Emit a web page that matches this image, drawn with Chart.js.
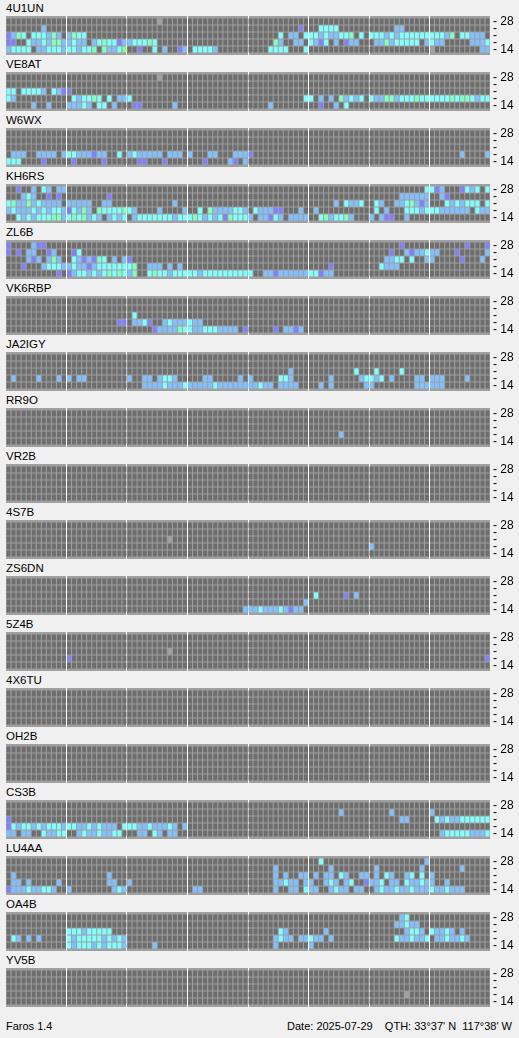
<!DOCTYPE html>
<html>
<head>
<meta charset="utf-8">
<script src="https://cdn.jsdelivr.net/npm/chart.js@4.4.1/dist/chart.umd.min.js"></script>
<style>
  body { margin: 0; background: #f0f0f0; width: 519px; height: 1038px; position: relative; overflow: hidden;
         font-family: "Liberation Sans", Arial, sans-serif; font-size: 11.5px; color: #000; }
  .panel { position: absolute; left: 0; width: 519px; height: 56px; }
  .name { position: absolute; left: 6px; top: 1px; line-height: 14px; }
  .panel canvas { position: absolute; left: 0; top: 14px; }
  .foot { position: absolute; top: 1019px; line-height: 14px; white-space: pre; font-size: 11px; }
</style>
</head>
<body>
<div id="panels"></div>
<div class="foot" style="left:6px">Faros 1.4</div>
<div class="foot" style="right:7px">Date: 2025-07-29    QTH: 33°37' N  117°38' W</div>
<script>
// beacons, top to bottom
const stations = ['4U1UN', 'VE8AT', 'W6WX', 'KH6RS', 'ZL6B', 'VK6RBP', 'JA2IGY', 'RR9O', 'VR2B',
                  '4S7B', 'ZS6DN', '5Z4B', '4X6TU', 'OH2B', 'CS3B', 'LU4AA', 'OA4B', 'YV5B'];

// 96 quarter-hour slots, rows are 28 / 24 / 21 / 18 / 14 MHz
const slots = Array.from({ length: 96 }, (_, i) => i);
const tickLabels = ['- 14', '-', '-', '-', '- 28'];

// cell codes: . nothing, x no data, c / b / p / g / G signal levels
// each row: list of [first slot, codes]
const d4U1UN = [
  [[30, 'x']],
  [[7, 'b'], [58, 'p'], [62, 'cccc'], [77, 'bb']],
  [[0, 'pbgc.cccbgb.bgcc'], [54, 'c.bb.cccbcbbccg.c.cccbcbcccccccccbg.ccbbb']],
  [[0, 'pp..cbbcbggbbcbb.bcgccpbbcccgc'], [53, 'gb..bb.cbpc.b.pbb...bbgbccccc.bcbb.....bbbc']],
  [[0, 'bcccc.bbcccbccbccg.gbbcG..p..c.b..pb.ccccb'], [52, 'cccc...c'], [84, 'x'], [94, 'bb']]
];
const dVE8AT = [
  [[30, 'x']],
  [],
  [[0, 'cc.ccccb.cbpp']],
  [[0, 'cb'], [13, 'cbccgc.c.bbc'], [59, 'cc.b.b.gbcbc.cbbggbcccgccccccgcggcbcc']],
  [[5, 'b..b...bbbcb.cc.b'], [25, 'pp'], [33, 'b'], [52, 'b'], [62, 'p'], [65, 'b'], [67, 'c']]
];
const dW6WX = [
  [],
  [],
  [],
  [[1, 'bbb..bbbb.bccbbbpbb..c.bcbbbbb.bbb.b...bb...bbbp'], [90, 'b'], [95, 'b']],
  [[0, 'ccc'], [7, 'p'], [13, 'p'], [19, 'p'], [26, 'pp'], [31, 'p'], [39, 'p'], [44, 'bp.b']]
];
const dKH6RS = [
  [[2, 'p..b.cb.bb'], [83, 'ccpb...pcbc.c']],
  [[3, 'bcb..p.p'], [20, 'p'], [78, 'bbbbbb..bp']],
  [[0, 'cgbbgbcbbbb.bbbbb..bb'], [33, 'b'], [65, 'b.cbbc..cb..bbcgbpb...cbcbccc.c']],
  [[0, 'bcbbbcbcbccbpcbgb.gccccgcb'], [30, 'b'], [35, 'b'], [38, 'c.gbbbbccb.cbbbpp...b..b'], [73, 'c.b...cccbcccbbbbbb.cbbc']],
  [[2, 'cbcbcccggbcgcgbcb.bcbc.bcccccccbcccgcbcbcpgcccb.bbpcb.bbbb..cgbccgb...b.bpp..b']]
];
const dZL6B = [
  [[0, 'p....bpp'], [78, 'p'], [91, 'p'], [95, 'p']],
  [[0, 'p.p.bb..pb...pc'], [76, 'p..bpbbcbb...p.....b']],
  [[4, 'bpb.bgb..cbpbpgc.b.bp'], [75, 'bbcc.c..bb.....p...b']],
  [[3, 'p...bcccbbcbbpbcccccccg..bbb.b.b'], [64, 'p'], [74, 'cbbb']],
  [[10, 'p.pbccbcbcgcgcbg..cgccbcccccbcccccccccc..bbpbbbbbbccpbb']]
];
const dVK6RBP = [
  [],
  [],
  [[25, 'c']],
  [[22, 'pp.bbcp..bcbbbcbb']],
  [[29, 'pbbbbgccbbcccbbbb.p'], [53, 'p.bbpb']]
];
const dJA2IGY = [
  [],
  [],
  [[56, 'b'], [69, 'c'], [73, 'c'], [78, 'c']],
  [[1, 'b'], [6, 'b'], [10, 'b.b.bb'], [24, 'b'], [27, 'bb.bccb'], [39, 'bb'], [46, 'b.b'], [54, 'ccb'], [64, 'b'], [70, 'bccbc.b'], [81, 'bb.bbb'], [91, 'b']],
  [[27, 'bbbbcbbbcbbbbbcbbbbbbbbcbb'], [54, 'bbbb'], [62, 'b.b'], [71, 'bb'], [81, 'bbbbbb']]
];
const dRR9O = [[], [], [], [[66, 'b']], []];
const dVR2B = [[], [], [], [], []];
const d4S7B = [[], [], [[32, 'x']], [[72, 'b']], []];
const dZS6DN = [
  [],
  [],
  [[61, 'c'], [67, 'p'], [69, 'b']],
  [[59, 'b']],
  [[47, 'bbbcbbbcbpbb']]
];
const d5Z4B = [[], [], [[32, 'x']], [[12, 'p'], [95, 'p']], []];
const d4X6TU = [[], [], [], [], []];
const dOH2B = [[], [], [], [], []];
const dCS3B = [
  [],
  [[66, 'b'], [76, 'b'], [84, 'b']],
  [[0, 'p'], [78, 'bb'], [85, 'cbcbbcccccc']],
  [[0, 'pcbccbcbcccbccbbcbcbbb.cccbbcbbbcb.b']],
  [[0, 'bb.bb..cbbcc..bcbbcbbcc...bb.cb.bb'], [86, 'bcccccbbbc']]
];
const dLU4AA = [
  [[62, 'c'], [83, 'b']],
  [[53, 'b'], [64, 'b'], [73, 'b'], [82, 'b'], [90, 'b']],
  [[1, 'b'], [20, 'b'], [53, 'b.b..bb.b.bb.cb..bb.b.cb..bc.c.b']],
  [[1, 'bb.b'], [10, 'b'], [20, 'bb..b'], [53, 'bbcbb.bb..bcb.bc..pbbc.bb.cbbcbb..b']],
  [[0, 'pbbbcbbccb..b'], [21, 'bcb'], [37, 'bb'], [53, 'b..bb.cbb..bcbb.bb..bcbbcbbcbbbcbbcbbb']]
];
const dOA4B = [
  [[78, 'bc']],
  [[77, 'bbcbb']],
  [[12, 'cccbccccc'], [54, 'cb'], [63, 'b'], [79, 'bccb.cbbcb.b']],
  [[1, 'cb.b.b'], [12, 'cbcccccbcbcb'], [53, 'bcbb.bbcbb.b'], [77, 'cbbcbbc.bbcbbcb']],
  [[12, 'cbcccbcbcccb'], [29, 'b'], [53, 'b'], [60, 'b']]
];
const dYV5B = [[], [], [], [[79, 'x']], []];

const stationData = [d4U1UN, dVE8AT, dW6WX, dKH6RS, dZL6B, dVK6RBP, dJA2IGY, dRR9O, dVR2B,
                     d4S7B, dZS6DN, d5Z4B, d4X6TU, dOH2B, dCS3B, dLU4AA, dOA4B, dYV5B];

const cellColors = { '.': '#6e6e6e', x: '#a0a0a0', c: '#80ffff', b: '#80c0ff', p: '#8080ff', g: '#80ffc0', G: '#80ff80' };

function expandRow(row) {
    const codes = Array(96).fill('.');
    row.forEach(([start, str]) => {
        for (let i = 0; i < str.length; i++) codes[start + i] = str[i];
    });
    return codes;
}

// grey panel behind the cells
const panelBg = {
    id: 'panelBg',
    beforeDraw(chart) {
        const a = chart.chartArea, ctx = chart.ctx;
        ctx.save();
        ctx.fillStyle = '#a0a0a0';
        ctx.fillRect(a.left, a.top, a.right - a.left, a.bottom - a.top);
        ctx.restore();
    }
};

const holder = document.getElementById('panels');

stations.forEach((name, k) => {
    const panel = document.createElement('div');
    panel.className = 'panel';
    panel.style.top = (56 * k) + 'px';
    panel.innerHTML = `<div class="name">${name}</div><canvas width="519" height="42" style="width:519px;height:42px"></canvas>`;
    holder.appendChild(panel);

    const rows = stationData[k];
    const datasets = rows.map((row, r) => {
        const level = 4 - r;
        const codes = expandRow(row);
        return {
            data: slots.map(() => [level - 0.43, level + 0.43]),
            backgroundColor: codes.map(c => cellColors[c]),
            borderWidth: 0,
            grouped: false,
            barPercentage: 0.8,
            categoryPercentage: 1
        };
    });

    new Chart(panel.querySelector('canvas'), {
        type: 'bar',
        data: { labels: slots, datasets },
        plugins: [panelBg],
        options: {
            responsive: false,
            animation: false,
            layout: { padding: { left: 6, right: 0, top: 2, bottom: 1 } },
            plugins: { legend: { display: false }, tooltip: { enabled: false } },
            scales: {
                x: {
                    ticks: { display: false },
                    border: { display: false },
                    grid: {
                        drawTicks: false,
                        offset: true,
                        lineWidth: 1,
                        color: ctx => (ctx.index > 0 && ctx.index % 12 === 0) ? '#ffffff' : 'rgba(0,0,0,0)'
                    },
                    afterFit: axis => { axis.height = 0; axis.paddingLeft = 0; axis.paddingRight = 0; }
                },
                y: {
                    position: 'right',
                    min: -0.786,
                    max: 4.786,
                    border: { display: false },
                    grid: { display: false, drawTicks: false },
                    afterBuildTicks: axis => { axis.ticks = [0, 1, 2, 3, 4].map(v => ({ value: v })); },
                    ticks: {
                        padding: 3,
                        autoSkip: false,
                        color: '#000',
                        font: { family: "'Liberation Sans', Arial, sans-serif", size: 12, lineHeight: 1 },
                        callback: v => tickLabels[v]
                    },
                    // keep the labels from shrinking the grid
                    afterFit: axis => { axis.width = 29; axis.paddingTop = 0; axis.paddingBottom = 0; }
                }
            }
        }
    });
});
</script>
</body>
</html>
